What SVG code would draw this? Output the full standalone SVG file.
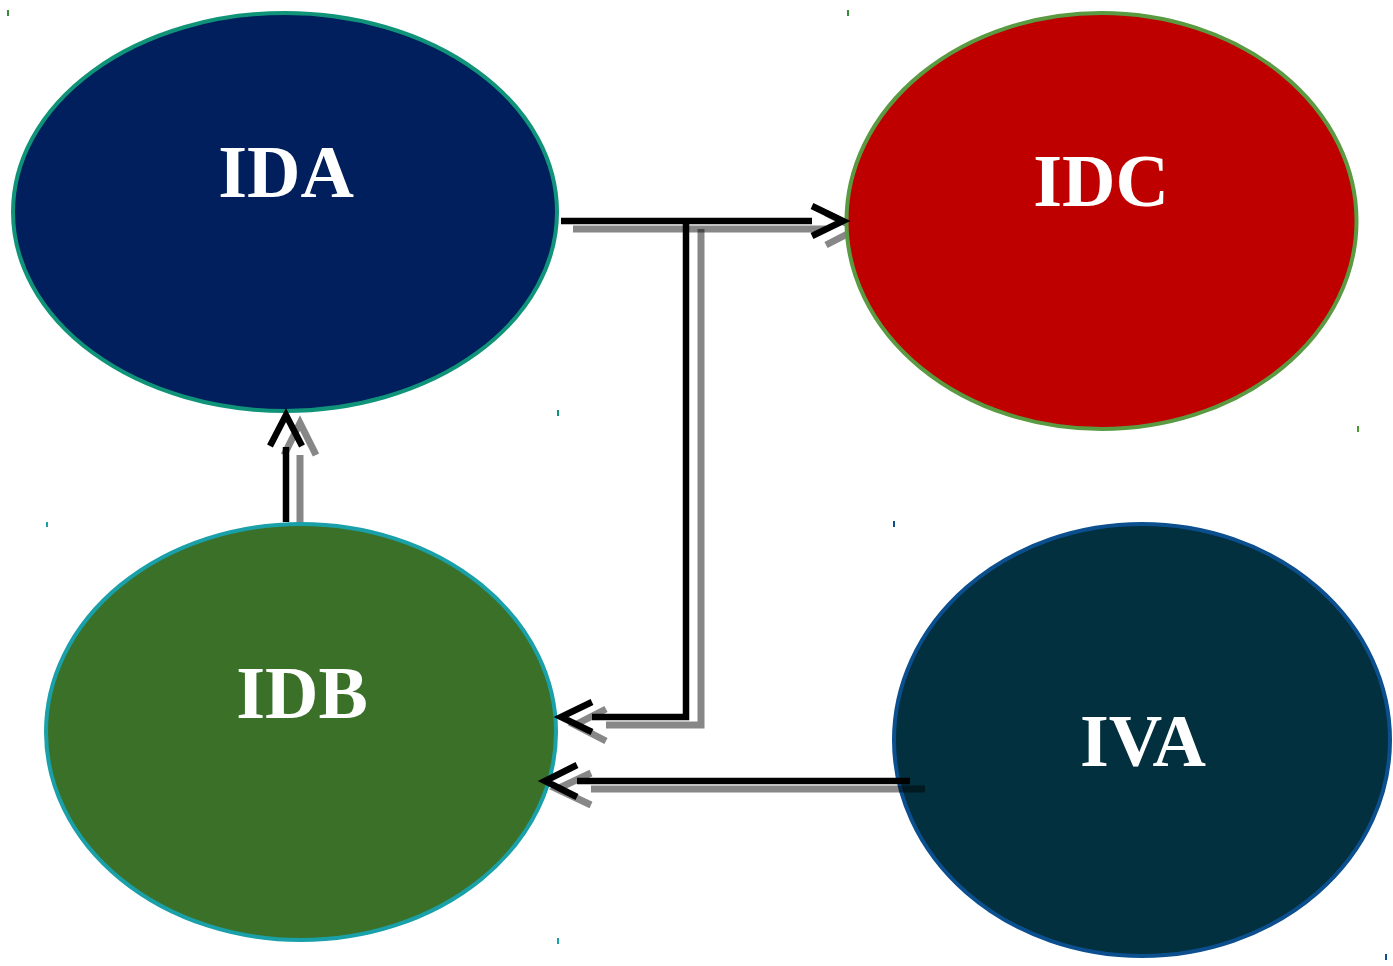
<svg xmlns="http://www.w3.org/2000/svg" width="1393" height="966" viewBox="0 0 1393 966">
<style>
.lbl{font-family:"Liberation Serif","Times New Roman",serif;font-weight:bold;font-size:74px;fill:#ffffff;text-anchor:middle}
.blk{fill:none;stroke:#000;stroke-width:6.5;stroke-linejoin:miter;stroke-linecap:butt}
.shd{fill:none;stroke:#000;stroke-opacity:0.47;stroke-width:7;stroke-linejoin:miter;stroke-linecap:butt}
.tick{stroke-width:2}
</style>
<rect width="1393" height="966" fill="#ffffff"/>
<g id="IVA">
<ellipse cx="1142" cy="740" rx="248" ry="216" fill="#03303f" stroke="#0b4f8f" stroke-width="4"/>
<text class="lbl" x="1143" y="766">IVA</text>
</g>
<g id="connector-shadows">
<path class="shd" d="M573,229 L826,229"/>
<path class="shd" d="M826,213 L857,229 L826,245"/>
<path class="shd" d="M701,229 L701,725 L606,725"/>
<path class="shd" d="M606,709 L575,725 L606,741"/>
<path class="shd" d="M300,530 L300,455"/>
<path class="shd" d="M284,455 L300,423 L316,455"/>
<path class="shd" d="M591,789 L925,789"/>
<path class="shd" d="M591,773 L557,789 L591,805"/>
</g>
<g id="IDA">
<ellipse cx="285" cy="212" rx="272" ry="199" fill="#001f5c" stroke="#109479" stroke-width="4"/>
<text class="lbl" x="286" y="197">IDA</text>
</g>
<g id="IDC">
<ellipse cx="1101.5" cy="221" rx="255" ry="208" fill="#be0000" stroke="#5a9a40" stroke-width="4"/>
<text class="lbl" x="1101" y="206">IDC</text>
</g>
<g id="IDB">
<ellipse cx="301" cy="732" rx="255" ry="208" fill="#3a7028" stroke="#1aa0a8" stroke-width="4"/>
<text class="lbl" x="302" y="718">IDB</text>
</g>
<g id="connectors">
<path class="blk" d="M561,221 L812,221"/>
<path class="blk" d="M812,206 L843,221 L812,236"/>
<path class="blk" d="M686,221 L686,717 L592,717"/>
<path class="blk" d="M592,702 L561,717 L592,732"/>
<path class="blk" d="M286,522 L286,447"/>
<path class="blk" d="M270,446 L286,415 L302,446"/>
<path class="blk" d="M910,781 L577,781"/>
<path class="blk" d="M577,765 L545,781 L577,797"/>
</g>
<g id="ticks">
<line class="tick" x1="8" y1="10" x2="8" y2="16" stroke="#3a8a3a"/>
<line class="tick" x1="848" y1="10" x2="848" y2="16" stroke="#3a8a3a"/>
<line class="tick" x1="558" y1="410" x2="558" y2="416" stroke="#109479"/>
<line class="tick" x1="1358" y1="426" x2="1358" y2="432" stroke="#4a9a30"/>
<line class="tick" x1="47" y1="522" x2="47" y2="527" stroke="#1aa0a8"/>
<line class="tick" x1="894" y1="521" x2="894" y2="527" stroke="#0b4f8f"/>
<line class="tick" x1="558" y1="938" x2="558" y2="944" stroke="#1aa0a8"/>
<line class="tick" x1="1386" y1="954" x2="1386" y2="960" stroke="#0b4f8f"/>
</g>
</svg>
